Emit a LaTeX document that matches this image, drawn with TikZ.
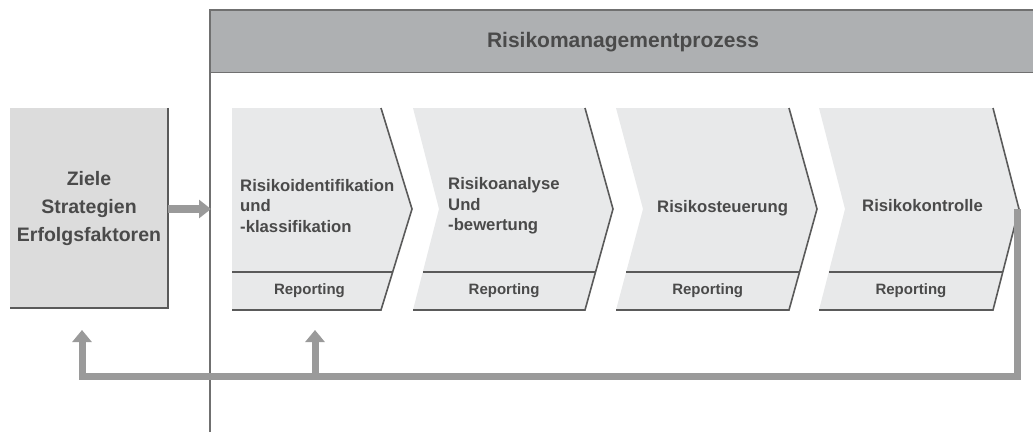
\documentclass[tikz,border=0pt]{standalone}
\usepackage{fontspec}
\setmainfont{Liberation Sans}
\usetikzlibrary{arrows.meta}
\definecolor{headgray}{HTML}{AEB0B2}
\definecolor{boxgray}{HTML}{DCDCDC}
\definecolor{chevgray}{HTML}{E8E9EA}
\definecolor{edgegray}{HTML}{5A5A5A}
\definecolor{framegray}{HTML}{707070}
\definecolor{arrowgray}{HTML}{9A9A9A}
\definecolor{textgray}{HTML}{4A4A4A}
\begin{document}
\begin{tikzpicture}[x=1pt,y=-1pt]
            \tikzstyle{edge line}=[draw=edgegray,line width=1.6pt];
            \tikzstyle{flow arrow}=[draw=arrowgray,line width=7pt,line join=miter,-{Triangle[width=19pt,length=12pt]}];
            \tikzstyle{step text}=[anchor=west,align=left,inner sep=0,text=textgray,font=\fontsize{16.7}{20.5}\selectfont\bfseries];
            \tikzstyle{report text}=[inner sep=0,text=textgray,font=\fontsize{15}{18}\selectfont\bfseries];
            \useasboundingbox (0,0) rectangle (1033,432);
            % header and frame
            \fill[headgray] (210,10) rectangle (1033,72);
            \draw[framegray,line width=1pt] (210,72)--(1033,72);
            \draw[framegray,line width=2pt] (210,432)--(210,10)--(1033,10);
            \node[text=textgray,font=\fontsize{21}{24}\selectfont\bfseries] (title) at (623,42) {Risikomanagementprozess};
            % left box
            \node[fill=boxgray,minimum width=158pt,minimum height=200pt,inner sep=0,align=center,
                  text=textgray,font=\fontsize{19.5}{28}\selectfont\bfseries] (ziele) at (89,208) {Ziele\\Strategien\\Erfolgsfaktoren};
            \draw[edge line] (ziele.north east)--(ziele.south east)--(ziele.south west);
            \coordinate (frame in) at (211,209);
            \draw[draw=arrowgray,line width=8pt,-{Triangle[width=18pt,length=12pt]}] (ziele.east|-frame in)--(frame in);
            % chevrons
            \foreach \l/\n/\r/\t [count=\i] in {232/232/381/412, 413/439/585/613, 616/643/789/817, 819/845/993/1019}{
              \fill[chevgray] (\l,108)--(\r,108)--(\t,209)--(\r,310)--(\l,310)--(\n,209)--cycle;
              \draw[edge line] (\r,108)--(\t,209)--(\r,310)--(\l,310);
              \draw[edge line,line width=1.2pt] ({\n-0.624*(\n-\l)},272)--({\t-0.624*(\t-\r)},272);
              \node[report text] (rep\i) at ({(\n-0.81*(\n-\l)+\t-0.81*(\t-\r))/2},291) {Reporting};
              \coordinate (tip\i) at (\t,209);
            }
            \node[step text] (ident) at (240,206) {Risikoidentifikation\\und\\-klassifikation};
            \node[step text] (analyse) at (448,206) {Risikoanalyse\\Und\\-bewertung};
            \node[step text] (steuer) at (657,208) {Risikosteuerung};
            \node[step text] (kontrolle) at (862,206) {Risikokontrolle};
            % feedback
            \coordinate (back r) at (1017,376);
            \coordinate (back l) at (82,376);
            \coordinate (back m) at (315,376);
            \draw[flow arrow] ([xshift=-2pt]tip4)--(back r)--(back l)--(82,330);
            \draw[flow arrow] ([yshift=-3.5pt]back m)--(315,330);
\end{tikzpicture}
\end{document}
